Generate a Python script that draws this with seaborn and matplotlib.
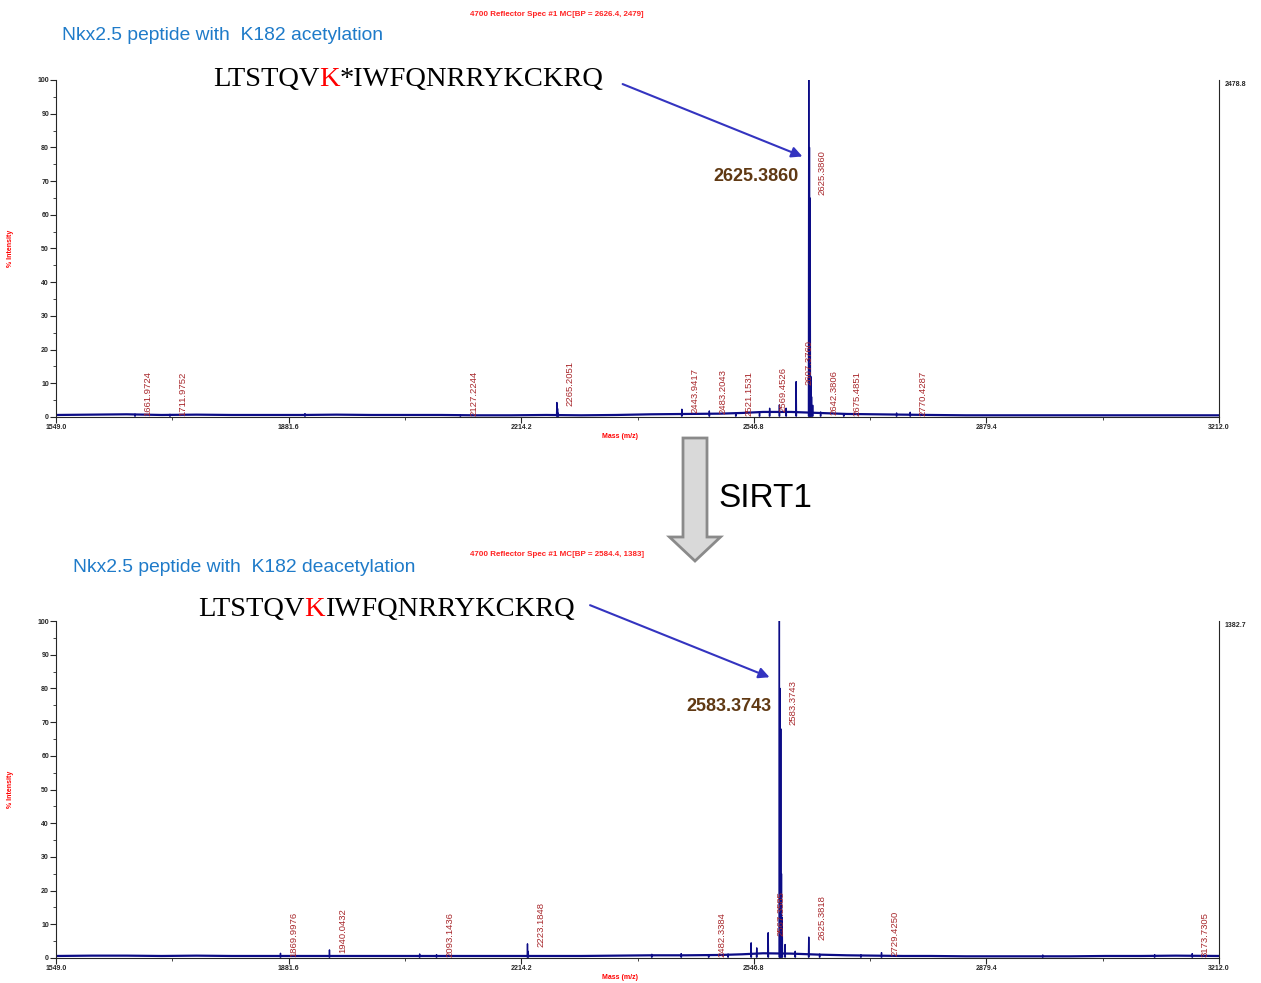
import numpy as np
import pandas as pd
import matplotlib
matplotlib.use("Agg")
import matplotlib.pyplot as plt
import matplotlib.patches as mpatches
import seaborn as sns

# ---- data ----
x_ticks = [1549.0, 1881.6, 2214.2, 2546.8, 2879.4, 3212.0]

# acetylated peptide (top)
top_base_mz = [1549, 1600, 1650, 1700, 1750, 1800, 1850, 1900, 1950, 2000, 2050, 2100,
               2150, 2200, 2250, 2300, 2350, 2400, 2450, 2500, 2530, 2560, 2600, 2640,
               2680, 2720, 2760, 2800, 2850, 2900, 2950, 3000, 3050, 3100, 3150, 3212]
top_base_h = [0.6, 0.7, 0.8, 0.6, 0.7, 0.6, 0.6, 0.6, 0.7, 0.6, 0.6, 0.6,
              0.5, 0.5, 0.6, 0.5, 0.6, 0.8, 0.9, 1.0, 1.2, 1.5, 1.5, 1.2,
              0.9, 0.8, 0.7, 0.6, 0.5, 0.5, 0.5, 0.5, 0.5, 0.5, 0.5, 0.5]
top_peak_mz = [1661.9724, 1711.9752, 1905.0, 2127.2244, 2265.2051, 2266.2, 2267.2,
               2443.9417, 2483.2043, 2521.1531, 2555.0, 2569.4526, 2583.4, 2593.0,
               2607.3760, 2625.3860, 2626.39, 2627.39, 2628.4, 2629.4, 2631.0,
               2642.3806, 2675.4851, 2751.0, 2770.4287]
top_peak_h = [0.9, 0.8, 1.0, 0.7, 4.3, 2.5, 1.2,
              2.3, 1.8, 1.2, 1.5, 2.6, 3.6, 2.6,
              10.5, 100.0, 80.0, 65.0, 12.0, 6.0, 3.5,
              1.5, 1.0, 1.2, 1.4]
top_label_mz = [1661.9724, 1711.9752, 2127.2244, 2265.2051, 2443.9417, 2483.2043,
                2521.1531, 2569.4526, 2607.3760, 2625.3860, 2642.3806, 2675.4851, 2770.4287]

# deacetylated peptide (bottom)
bot_base_mz = [1549, 1600, 1650, 1700, 1750, 1800, 1850, 1900, 1950, 2000, 2050, 2100,
               2150, 2200, 2250, 2300, 2350, 2400, 2450, 2500, 2530, 2560, 2600, 2640,
               2680, 2720, 2760, 2800, 2850, 2900, 2950, 3000, 3050, 3100, 3150, 3212]
bot_base_h = [0.6, 0.7, 0.7, 0.6, 0.7, 0.6, 0.6, 0.6, 0.6, 0.6, 0.6, 0.6,
              0.6, 0.6, 0.6, 0.6, 0.7, 0.8, 0.8, 0.9, 1.1, 1.4, 1.3, 1.0,
              0.8, 0.7, 0.6, 0.6, 0.5, 0.5, 0.5, 0.5, 0.6, 0.6, 0.7, 0.6]
bot_peak_mz = [1869.9976, 1940.0432, 2069.0, 2093.1436, 2223.1848, 2224.2, 2401.0,
               2443.0, 2482.3384, 2510.0, 2543.0, 2551.0, 2567.3585, 2583.3743,
               2584.38, 2585.38, 2586.38, 2587.4, 2591.5, 2606.0, 2625.3818, 2641.0,
               2700.0, 2729.4250, 2960.0, 3120.0, 3173.7305]
bot_peak_h = [1.4, 2.4, 1.2, 1.0, 4.2, 2.0, 1.1,
              1.3, 1.0, 1.2, 4.5, 3.0, 7.5, 100.0,
              80.0, 68.0, 25.0, 12.0, 4.0, 2.0, 6.2, 1.2,
              1.0, 1.6, 0.9, 1.0, 1.3]
bot_label_mz = [1869.9976, 1940.0432, 2093.1436, 2223.1848, 2482.3384, 2567.3585,
                2583.3743, 2625.3818, 2729.4250, 3173.7305]


def spectrum_frame(base_mz, base_h, peak_mz, peak_h):
    rows = [(m, h, 0) for m, h in zip(base_mz, base_h)]
    for i, (m, h) in enumerate(zip(peak_mz, peak_h)):
        rows += [(m - 0.45, 0.3, i + 1), (m, h, i + 1), (m + 0.45, 0.3, i + 1)]
    return pd.DataFrame(rows, columns=["mz", "intensity", "part"])


sns.set_style("ticks")
plt.rcParams["font.family"] = ["Liberation Sans", "DejaVu Sans"]

fig = plt.figure(figsize=(12.61, 9.83), dpi=100)
W, H = 1261, 983
ax_top = fig.add_axes([56 / W, 1 - 417 / H, 1163 / W, 337 / H])
ax_bot = fig.add_axes([56 / W, 1 - 958 / H, 1163 / W, 337 / H])

label_red = "#a8282c"
line_blue = "#0c0c86"


def draw_panel(ax, df, peak_mz, peak_h, label_mz, label_cap, right_txt):
    sns.lineplot(data=df[df["part"] == 0], x="mz", y="intensity", estimator=None,
                 sort=False, color=line_blue, lw=1.6, ax=ax, legend=False)
    sns.lineplot(data=df[df["part"] > 0], x="mz", y="intensity", units="part",
                 estimator=None, sort=False, color=line_blue, lw=1.0, ax=ax, legend=False)
    ax.set_xlim(x_ticks[0], x_ticks[-1])
    ax.set_ylim(0, 100)
    ax.set_xticks(x_ticks)
    ax.set_xticklabels([f"{t:.1f}" for t in x_ticks])
    ax.set_xticks([(a + b) / 2 for a, b in zip(x_ticks[:-1], x_ticks[1:])], minor=True)
    ax.set_yticks(range(0, 101, 10))
    ax.set_yticks(range(5, 100, 10), minor=True)
    ax.tick_params(which="major", length=4, width=0.8, labelsize=5, pad=1)
    ax.tick_params(which="minor", length=2, width=0.6)
    for lab in ax.get_xticklabels() + ax.get_yticklabels():
        lab.set_fontweight("bold")
    ax.spines["top"].set_visible(False)
    for s in ["left", "bottom", "right"]:
        ax.spines[s].set_linewidth(0.8)
    ax.set_xlabel("Mass (m/z)", color="red", fontsize=5, fontweight="bold")
    ax.set_ylabel("% Intensity", color="red", fontsize=5, fontweight="bold")
    ax.xaxis.set_label_coords(0.485, -0.047)
    ax.yaxis.set_label_coords(-0.036, 0.5)
    ax.text(1.005, 0.988, right_txt, transform=ax.transAxes, fontsize=5,
            fontweight="bold", ha="left", va="center")
    pm = np.array(peak_mz)
    for m in label_mz:
        h = peak_h[int(np.argmin(np.abs(pm - m)))]
        y = max(min(h, label_cap) - 1.0, 0.4)
        ax.annotate(f"{m:.4f}", xy=(m, y), xytext=(9.5, 0), textcoords="offset points",
                    rotation=90, ha="center", va="bottom", fontsize=6.8, color=label_red)


draw_panel(ax_top, spectrum_frame(top_base_mz, top_base_h, top_peak_mz, top_peak_h),
           top_peak_mz, top_peak_h, top_label_mz, 67, "2478.8")
draw_panel(ax_bot, spectrum_frame(bot_base_mz, bot_base_h, bot_peak_mz, bot_peak_h),
           bot_peak_mz, bot_peak_h, bot_label_mz, 70, "1382.7")

# headers and titles
title_blue = "#1f7bc9"
fig.text(557 / W, 1 - 14 / H, "4700 Reflector Spec #1 MC[BP = 2626.4, 2479]",
         color="#ff2222", fontsize=5.8, fontweight="bold", ha="center", va="center")
fig.text(557 / W, 1 - 555 / H, "4700 Reflector Spec #1 MC[BP = 2584.4, 1383]",
         color="#ff2222", fontsize=5.8, fontweight="bold", ha="center", va="center")
fig.text(62 / W, 1 - 35 / H, "Nkx2.5 peptide with  K182 acetylation",
         color=title_blue, fontsize=13.9, ha="left", va="center")
fig.text(73 / W, 1 - 567 / H, "Nkx2.5 peptide with  K182 deacetylation",
         color=title_blue, fontsize=13.9, ha="left", va="center")

renderer = fig.canvas.get_renderer()


def peptide(x_px, y_px, parts):
    x = x_px / W
    for s, c in parts:
        t = fig.text(x, 1 - y_px / H, s, color=c, fontsize=20.5, ha="left", va="baseline",
                     family=["Liberation Serif", "DejaVu Serif"])
        bb = t.get_window_extent(renderer)
        x = bb.x1 / W


peptide(213, 86, [("LTSTQV", "black"), ("K", "red"), ("*IWFQNRRYKCKRQ", "black")])
peptide(198, 616, [("LTSTQV", "black"), ("K", "red"), ("IWFQNRRYKCKRQ", "black")])

# arrows pointing to the main peaks
arrow_blue = "#3434c0"
ax_top.annotate("", xy=(2620, 77), xytext=(0.485, 0.991), textcoords="axes fraction",
                arrowprops=dict(arrowstyle="-|>", color=arrow_blue, lw=1.5, mutation_scale=16))
ax_bot.annotate("", xy=(2573, 83), xytext=(0.457, 1.05), textcoords="axes fraction",
                arrowprops=dict(arrowstyle="-|>", color=arrow_blue, lw=1.5, mutation_scale=16),
                annotation_clip=False)
brown = "#603913"
ax_top.text(2550, 71.5, "2625.3860", color=brown, fontsize=13, fontweight="bold",
            ha="center", va="center")
ax_bot.text(2511, 74.5, "2583.3743", color=brown, fontsize=13, fontweight="bold",
            ha="center", va="center")

# SIRT1 treatment arrow
big_arrow = mpatches.FancyArrow(6.95, 5.45, 0, -1.23, width=0.24, head_width=0.51,
                                head_length=0.24, length_includes_head=True,
                                transform=fig.dpi_scale_trans, facecolor="#d9d9d9",
                                edgecolor="#8a8a8a", lw=2.0)
fig.add_artist(big_arrow)
fig.text(765 / W, 1 - 498 / H, "SIRT1", fontsize=24, ha="center", va="center", color="black")

plt.savefig("out.png", dpi=100)
plt.close()
